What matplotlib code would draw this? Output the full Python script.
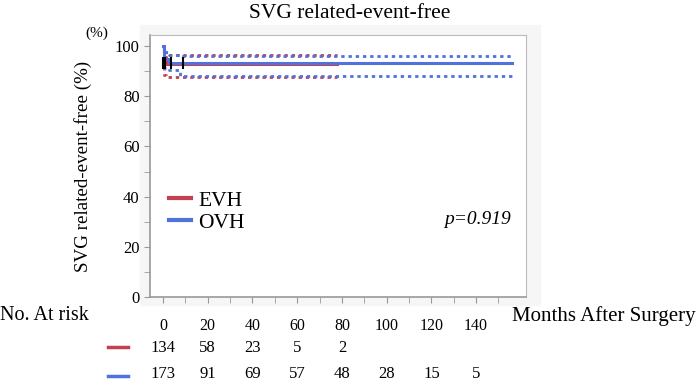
import numpy as np
import matplotlib
matplotlib.use('Agg')
import matplotlib.pyplot as plt
from matplotlib.lines import Line2D
from matplotlib.patches import Rectangle
from matplotlib.transforms import blended_transform_factory

plt.rcParams['font.family'] = ['Liberation Serif', 'DejaVu Serif']

red = '#c2404f'
blue = '#4f72dc'

# Kaplan-Meier estimates (months, %)
evh_t = [0, 0.6, 1.5, 78]
evh_s = [100, 95.5, 93.0, 93.0]
evh_hi = [100, 97.2, 96.5, 96.5]
evh_lo = [100, 88.6, 87.6, 87.6]

ovh_t = [0, 0.5, 2.5, 7.5, 156]
ovh_s = [100, 95.0, 93.3, 93.3, 93.3]
ovh_hi = [100, 97.8, 96.3, 96.2, 96.2]
ovh_lo = [100, 91.2, 90.6, 88.2, 88.2]

censor_t = [0.2, 0.8, 3.5, 9.0]
censor_s = [93.3, 93.3, 93.3, 93.3]

risk_months = [0, 20, 40, 60, 80, 100, 120, 140]
risk_evh = [134, 58, 23, 5, 2]
risk_ovh = [173, 91, 69, 57, 48, 28, 15, 5]

fig = plt.figure(figsize=(7, 3.83), dpi=100, facecolor='white')
fig.add_artist(Rectangle((140/700, 1-305/383), 400/700, 280/383,
                         transform=fig.transFigure, color='#f6f6f6', zorder=0))
ax = fig.add_axes([150/700, 1-297/383, 376/700, 262/383])
ax.set_facecolor('white')

dot = (0, (1.2, 1.4))
ax.step(evh_t, evh_hi, where='post', color=red, lw=2, ls=dot)
ax.step(evh_t, evh_lo, where='post', color=red, lw=2, ls=dot)
ax.step(ovh_t, ovh_hi, where='post', color=blue, lw=2, ls=dot)
ax.step(ovh_t, ovh_lo, where='post', color=blue, lw=2, ls=dot)
ax.step(evh_t, evh_s, where='post', color=red, lw=2.2)
ax.step(ovh_t, ovh_s, where='post', color=blue, lw=2.2)
ax.plot(censor_t, censor_s, ls='none', marker='|', ms=9, mew=1.5, color='black')

ax.set_xlim(-5.8, 162.3)
ax.set_ylim(0, 104.4)
ax.set_xticks(risk_months)
ax.set_xticks(np.arange(10, 160, 20), minor=True)
ax.set_yticks(np.arange(0, 101, 20))
ax.set_yticks(np.arange(10, 100, 20), minor=True)
ax.tick_params(which='both', direction='out', color='#999999', length=4)
ax.tick_params(axis='x', pad=11, labelsize=11.5)
ax.tick_params(axis='y', labelsize=12)
for s in ['top', 'right']:
    ax.spines[s].set_color('#bbbbbb')
for s in ['left', 'bottom']:
    ax.spines[s].set_color('#999999')
    ax.spines[s].set_linewidth(1.2)

ax.set_ylabel('SVG related-event-free (%)', fontsize=13.7)
ax.yaxis.set_label_coords(-0.155, 0.5)
fig.text(0.5, 1-14/383, 'SVG related-event-free', ha='center', va='center', fontsize=15.5)
fig.text(97/700, 1-33/383, '(%)', ha='center', va='center', fontsize=11)

handles = [Line2D([], [], color=red, lw=3), Line2D([], [], color=blue, lw=3)]
ax.legend(handles, ['EVH', 'OVH'], frameon=False, loc='upper left',
          bbox_to_anchor=(0.0, 0.48), fontsize=15.5, handlelength=1.0,
          handletextpad=0.35, labelspacing=0.1)
ax.text(0.87, 1-(220-35)/262, 'p=0.919', transform=ax.transAxes, ha='center',
        va='center', fontsize=14, style='italic')

fig.text(512/700, 1-316/383, 'Months After Surgery', ha='left', va='center', fontsize=15)
fig.text(0.0, 1-316/383, 'No. At risk', ha='left', va='center', fontsize=14.5)

tr = blended_transform_factory(ax.transData, fig.transFigure)
for m, n in zip(risk_months, risk_evh):
    ax.text(m, 1-348/383, str(n), transform=tr, ha='center', va='center', fontsize=12)
for m, n in zip(risk_months, risk_ovh):
    ax.text(m, 1-374/383, str(n), transform=tr, ha='center', va='center', fontsize=12)
fig.add_artist(Line2D([108/700, 128/700], [1-347/383]*2, color=red, lw=2.5))
fig.add_artist(Line2D([108/700, 128/700], [1-376/383]*2, color=blue, lw=2.5))

fig.savefig('out.png', dpi=100)
